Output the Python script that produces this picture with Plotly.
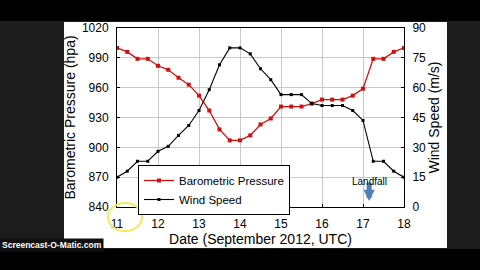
import plotly.graph_objects as go

days = [11 + i * 0.25 for i in range(29)]
pressure = [1000, 996, 989, 989, 982, 978, 970, 963, 952, 937, 918, 907, 907, 912, 923, 929,
            941, 941, 941, 944, 948, 948, 948, 952, 959, 989, 989, 996, 1000]
wind = [15, 18, 23, 23, 28, 30.5, 36, 41, 48.5, 59, 71.5, 80, 80, 77, 69.5, 64,
        56.5, 56.5, 56.5, 52, 51, 51, 51, 48.5, 43.5, 23, 23, 18, 15]
x_ticks = [11, 12, 13, 14, 15, 16, 17, 18]
p_ticks = [840, 870, 900, 930, 960, 990, 1020]
w_ticks = [0, 15, 30, 45, 60, 75, 90]
landfall_day = 17.15

FONT = "Liberation Sans, Arial, sans-serif"
L, R, T, B = 117, 76, 28, 63
W, H = 480, 270
pw, ph = W - L - R, H - T - B

def px(xp):
    return (xp - L) / pw

def py(yp):
    return (H - B - yp) / ph

fig = go.Figure()
fig.add_trace(go.Scatter(x=days, y=pressure, name="Barometric Pressure", mode="lines+markers",
                         line=dict(color="#d01010", width=1.3),
                         marker=dict(symbol="square", size=4, color="#d01010"), yaxis="y"))
fig.add_trace(go.Scatter(x=days, y=wind, name="Wind Speed", mode="lines+markers",
                         line=dict(color="black", width=1.1),
                         marker=dict(symbol="square", size=3, color="black"), yaxis="y2"))

axis_common = dict(showline=True, linecolor="black", linewidth=1, ticks="inside", ticklen=3,
                   tickcolor="black", tickfont=dict(family=FONT, size=12, color="black"),
                   gridcolor="#c8c8c8", gridwidth=1, zeroline=False)

fig.update_layout(
    width=W, height=H, margin=dict(l=L, r=R, t=T, b=B),
    paper_bgcolor="#1c1c1c", plot_bgcolor="white",
    showlegend=True,
    legend=dict(x=px(138), y=py(165), xanchor="left", yanchor="top",
                bgcolor="white", bordercolor="black", borderwidth=1,
                font=dict(family=FONT, size=11.5, color="black"),
                tracegroupgap=0, itemwidth=30),
    xaxis=dict(range=[11, 18], tickvals=x_ticks, mirror=True, showgrid=True, ticklabelstandoff=6,
               title=dict(text="Date (September 2012, UTC)", font=dict(family=FONT, size=14, color="black"),
                          standoff=3), **axis_common),
    yaxis=dict(range=[840, 1020], tickvals=p_ticks, showgrid=True, ticklabelstandoff=5,
               title=dict(text="Barometric Pressure (hpa)", font=dict(family=FONT, size=14, color="black"),
                          standoff=2), **axis_common),
    yaxis2=dict(range=[0, 90], tickvals=w_ticks, overlaying="y", side="right", showgrid=False,
                ticklabelstandoff=5,
                title=dict(text="Wind Speed (m/s)", font=dict(family=FONT, size=14, color="black"),
                           standoff=2), **axis_common),
    shapes=[
        dict(type="rect", xref="paper", yref="paper", x0=px(64), x1=px(447), y0=py(248), y1=py(22),
             fillcolor="white", line=dict(width=0), layer="below"),
        dict(type="rect", xref="paper", yref="paper", x0=px(0), x1=px(480), y0=py(270), y1=py(249),
             fillcolor="black", line=dict(width=0), layer="below"),
        dict(type="rect", xref="paper", yref="paper", x0=px(0), x1=px(480), y0=py(21), y1=py(0),
             fillcolor="black", line=dict(width=0), layer="below"),
        dict(type="circle", xref="paper", yref="paper", x0=px(108), x1=px(142), y0=py(231), y1=py(203),
             line=dict(color="#f2ea60", width=2), layer="above"),
    ],
    annotations=[
        dict(x=landfall_day, y=846, xref="x", yref="y", ax=0, ay=-20, showarrow=True,
             arrowhead=2, arrowsize=0.45, arrowwidth=5, arrowcolor="#4f7fb8", text=""),
        dict(x=landfall_day, y=866, xref="x", yref="y", yanchor="middle", showarrow=False,
             text="Landfall", font=dict(family=FONT, size=10, color="black")),
        dict(x=px(0), y=py(245), xref="paper", yref="paper", xanchor="left", yanchor="middle",
             showarrow=False, bgcolor="#111111", borderpad=1,
             text="<b>Screencast-O-Matic.com</b>", font=dict(family=FONT, size=8.5, color="white")),
    ],
)

fig.write_html("out.html")
